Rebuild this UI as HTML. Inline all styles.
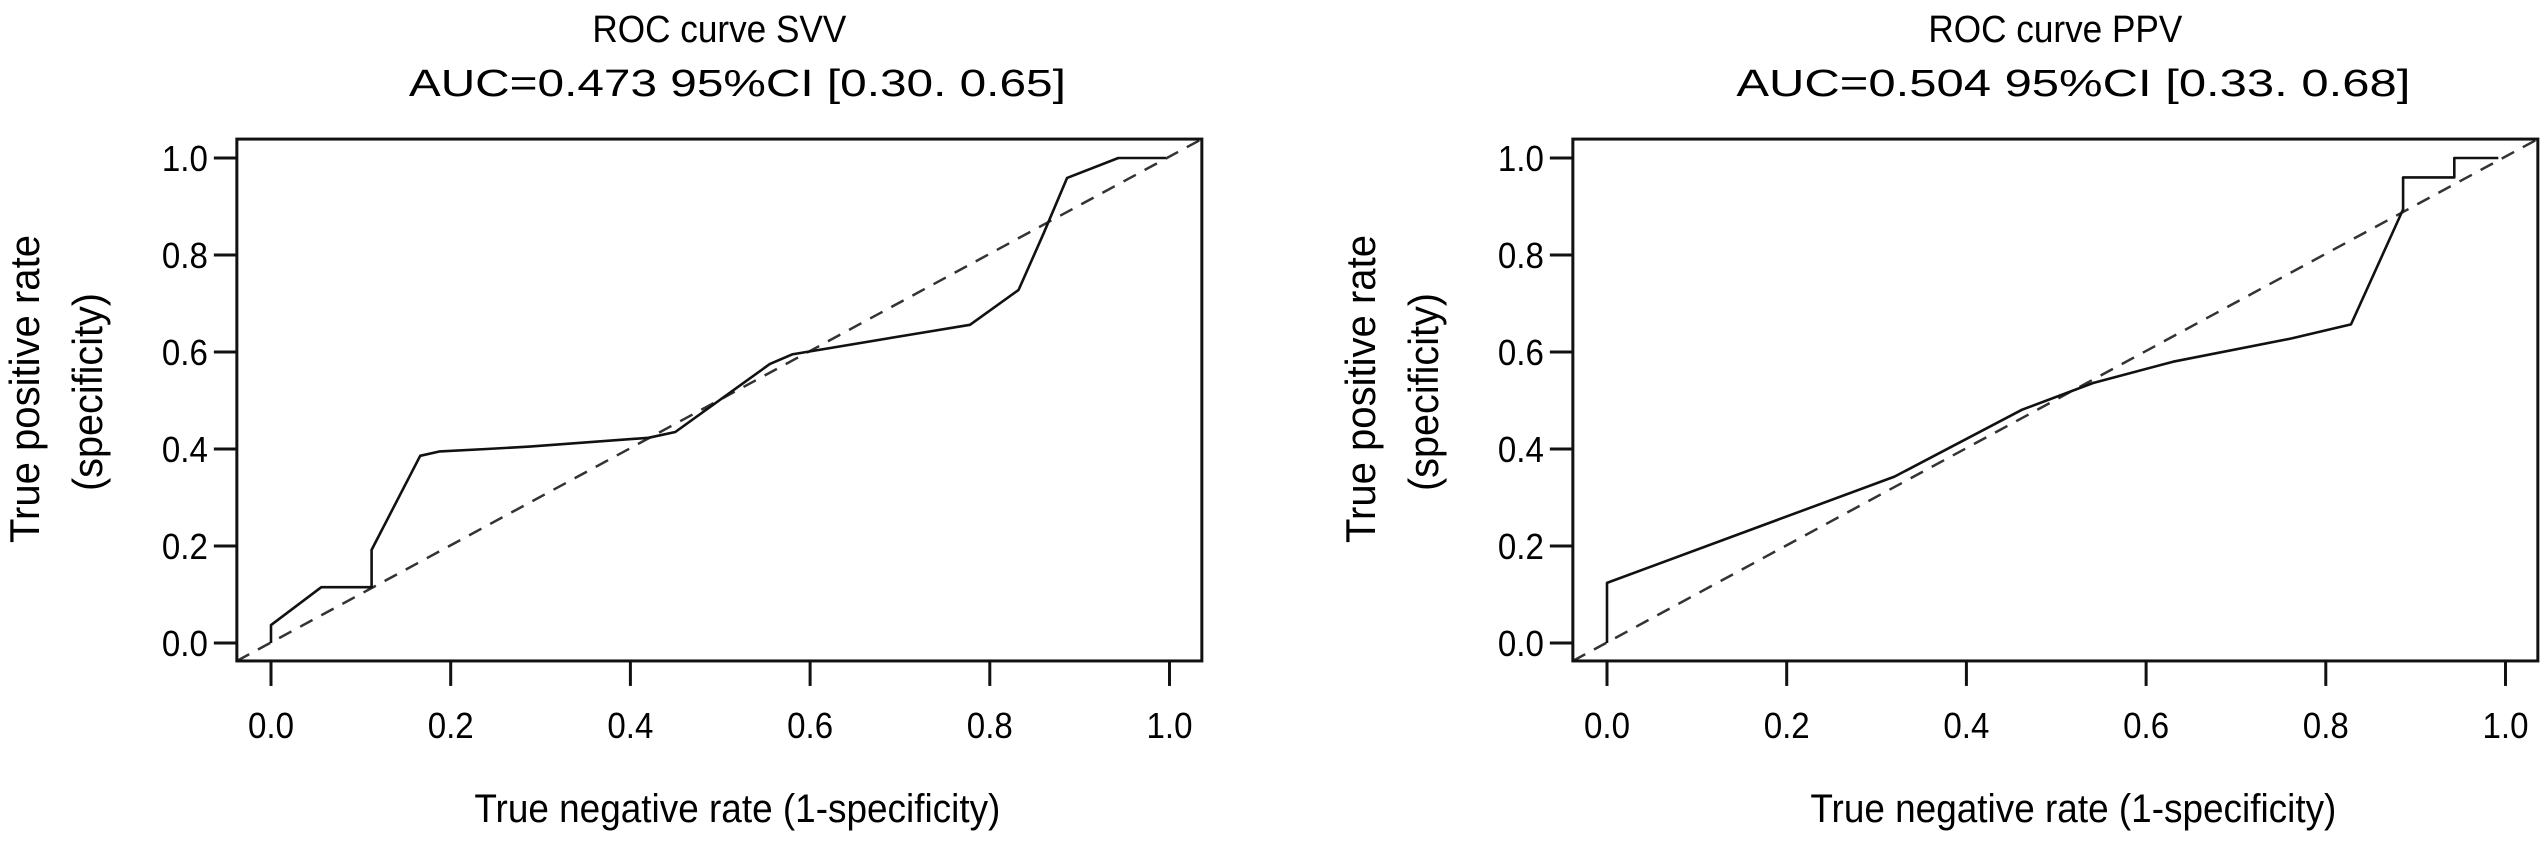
<!DOCTYPE html>
<html><head><meta charset="utf-8"><style>
html,body{margin:0;padding:0;background:#fff;}
svg{display:block;font-family:"Liberation Sans",Arial,sans-serif;}
</style></head><body>
<svg id="chart" width="2544" height="843" viewBox="0 0 2544 843" xmlns="http://www.w3.org/2000/svg"></svg>
<script>
const tickValues = [0.0, 0.2, 0.4, 0.6, 0.8, 1.0];
const tickLabels = ["0.0", "0.2", "0.4", "0.6", "0.8", "1.0"];
const svvTitle = "ROC curve SVV";
const svvSubtitle = "AUC=0.473 95%CI [0.30. 0.65]";
const svvFpr = [0, 0, 0.056, 0.112, 0.112, 0.166, 0.188, 0.24, 0.288, 0.42, 0.45, 0.555, 0.58, 0.722, 0.778, 0.832, 0.86, 0.886, 0.943, 0.996];
const svvTpr = [0, 0.037, 0.115, 0.115, 0.192, 0.386, 0.395, 0.40, 0.405, 0.423, 0.435, 0.575, 0.595, 0.639, 0.656, 0.728, 0.845, 0.959, 1.0, 1.0];
const ppvTitle = "ROC curve PPV";
const ppvSubtitle = "AUC=0.504 95%CI  [0.33. 0.68]";
const ppvFpr = [0, 0, 0.32, 0.462, 0.541, 0.63, 0.762, 0.828, 0.886, 0.886, 0.943, 0.943, 0.992];
const ppvTpr = [0, 0.124, 0.343, 0.481, 0.536, 0.58, 0.628, 0.657, 0.894, 0.96, 0.96, 1.0, 1.0];

const NS = "http://www.w3.org/2000/svg";
const svg = document.getElementById('chart');
function mk(tag, attrs, parent) {
  const e = document.createElementNS(NS, tag);
  for (const k in attrs) e.setAttribute(k, attrs[k]);
  (parent || svg).appendChild(e);
  return e;
}

function panel(ox, name, title, subtitle, subLen, fpr, tpr) {
  const x0 = 271 + ox, xs = 898.5;
  const y0 = 643, ys = 485;
  const X = v => x0 + v * xs;
  const Y = v => y0 - v * ys;
  const xmin = -0.038, xmax = 1.036, ymin = -0.037, ymax = 1.039;
  const g = mk('g', {});
  
  
  const cx = (X(xmin) + X(xmax)) / 2;

  const t1 = mk('text', {x: cx, y: 42, 'text-anchor': 'middle', 'font-size': 38, fill: '#000', textLength: 254, lengthAdjust: 'spacingAndGlyphs'}, g);
  t1.textContent = title;
  
  
  const t2 = mk('text', {x: cx + 18, y: 96, 'text-anchor': 'middle', 'font-size': 38, fill: '#000', textLength: subLen, lengthAdjust: 'spacingAndGlyphs'}, g);
  t2.textContent = subtitle;
  
  

  const diag = mk('line', {x1: X(xmin), y1: Y(ymin), x2: X(xmax), y2: Y(ymax), stroke: '#333', 'stroke-width': 2.5, 'stroke-dasharray': '14 10'}, g);
  
  

  let d = '';
  for (let i = 0; i < fpr.length; i++) d += (i ? 'L' : 'M') + X(fpr[i]).toFixed(1) + ',' + Y(tpr[i]).toFixed(1);
  const curve = mk('path', {d: d, fill: 'none', stroke: '#111', 'stroke-width': 2.6, 'stroke-linejoin': 'round'}, g);
  
  

  const box = mk('rect', {x: X(xmin), y: Y(ymax), width: X(xmax) - X(xmin), height: Y(ymin) - Y(ymax), fill: 'none', stroke: '#111', 'stroke-width': 3}, g);
  
  

  for (let i = 0; i < tickValues.length; i++) {
    const v = tickValues[i];
    const xt = mk('line', {x1: X(v), y1: Y(ymin), x2: X(v), y2: Y(ymin) + 25, stroke: '#111', 'stroke-width': 3}, g);
    
    
    const xl = mk('text', {x: X(v), y: 738, 'text-anchor': 'middle', 'font-size': 36, fill: '#000', textLength: 46, lengthAdjust: 'spacingAndGlyphs'}, g);
    xl.textContent = tickLabels[i];
    
    
    const yt = mk('line', {x1: X(xmin) - 23, y1: Y(v), x2: X(xmin), y2: Y(v), stroke: '#111', 'stroke-width': 3}, g);
    
    
    const yl = mk('text', {x: X(xmin) - 75, y: Y(v) + 13, 'text-anchor': 'start', 'font-size': 36, fill: '#000', textLength: 46, lengthAdjust: 'spacingAndGlyphs'}, g);
    yl.textContent = tickLabels[i];
    
    
  }

  const xt = mk('text', {x: cx + 18, y: 822, 'text-anchor': 'middle', 'font-size': 40, fill: '#000', textLength: 526, lengthAdjust: 'spacingAndGlyphs'}, g);
  xt.textContent = 'True negative rate (1-specificity)';
  
  

  const ya = mk('text', {x: 0, y: 0, 'text-anchor': 'middle', 'font-size': 42, fill: '#000', textLength: 308, lengthAdjust: 'spacingAndGlyphs', transform: 'translate(' + (ox + 39) + ',389) rotate(-90)'}, g);
  ya.textContent = 'True positive rate';
  
  
  const yb = mk('text', {x: 0, y: 0, 'text-anchor': 'middle', 'font-size': 42, fill: '#000', textLength: 198, lengthAdjust: 'spacingAndGlyphs', transform: 'translate(' + (ox + 102) + ',392) rotate(-90)'}, g);
  yb.textContent = '(specificity)';
  
  
}

panel(0, 'svv', svvTitle, svvSubtitle, 657, svvFpr, svvTpr);
panel(1336, 'ppv', ppvTitle, ppvSubtitle, 674, ppvFpr, ppvTpr);
</script>
</body></html>
